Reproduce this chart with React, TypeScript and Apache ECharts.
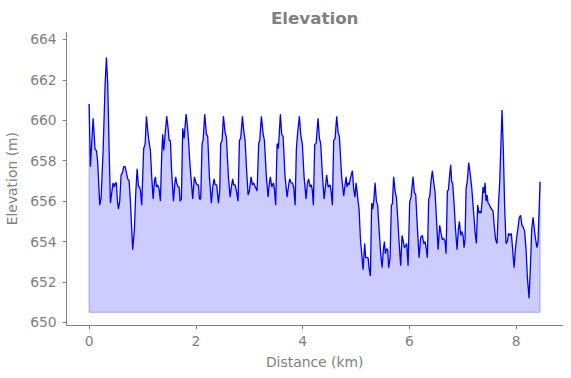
import React, { useEffect, useRef } from "react";
import * as echarts from "echarts";

// Distance along the route (km)
const distanceKm: number[] = [
  0, 0.024, 0.075, 0.112, 0.137, 0.161, 0.199, 0.225, 0.262, 0.3, 0.324, 0.348, 0.375, 0.399, 0.423, 0.449, 0.474, 0.493, 0.511, 0.53,
  0.549, 0.573, 0.599, 0.624, 0.648, 0.674, 0.699, 0.723, 0.749, 0.773, 0.816, 0.848, 0.873, 0.899, 0.925, 0.945, 0.961, 0.985,
  1.022, 1.049, 1.073, 1.097, 1.124, 1.148, 1.172, 1.199, 1.223, 1.242, 1.26, 1.285, 1.311, 1.335, 1.36, 1.378, 1.397, 1.423, 1.453,
  1.479, 1.498, 1.522, 1.547, 1.579, 1.603, 1.622, 1.64, 1.667, 1.685, 1.704, 1.728, 1.753, 1.779, 1.816, 1.841, 1.862, 1.884, 1.91,
  1.94, 1.972, 1.996, 2.022, 2.047, 2.066, 2.09, 2.116, 2.135, 2.165, 2.197, 2.221, 2.253, 2.29, 2.315, 2.341, 2.36, 2.39, 2.421,
  2.446, 2.464, 2.491, 2.515, 2.547, 2.571, 2.609, 2.64, 2.665, 2.689, 2.708, 2.734, 2.758, 2.79, 2.815, 2.839, 2.871, 2.895, 2.921,
  2.946, 2.978, 3.002, 3.034, 3.058, 3.082, 3.114, 3.146, 3.176, 3.195, 3.227, 3.258, 3.283, 3.32, 3.352, 3.376, 3.395, 3.419, 3.451,
  3.47, 3.494, 3.521, 3.545, 3.582, 3.607, 3.633, 3.67, 3.708, 3.732, 3.757, 3.783, 3.807, 3.831, 3.858, 3.882, 3.906, 3.938, 3.963,
  3.994, 4.026, 4.064, 4.088, 4.112, 4.139, 4.163, 4.182, 4.2, 4.225, 4.251, 4.288, 4.313, 4.337, 4.369, 4.401, 4.425, 4.449, 4.476,
  4.513, 4.532, 4.556, 4.581, 4.607, 4.637, 4.663, 4.687, 4.73, 4.768, 4.794, 4.813, 4.831, 4.85, 4.869, 4.899, 4.931, 4.955, 4.981,
  5.0, 5.019, 5.037, 5.056, 5.08, 5.112, 5.131, 5.161, 5.18, 5.206, 5.225, 5.243, 5.268, 5.292, 5.311, 5.33, 5.356, 5.38, 5.404,
  5.431, 5.461, 5.487, 5.511, 5.53, 5.549, 5.573, 5.592, 5.61, 5.637, 5.661, 5.68, 5.704, 5.73, 5.755, 5.779, 5.805, 5.835, 5.861,
  5.886, 5.904, 5.929, 5.948, 5.974, 6.004, 6.03, 6.067, 6.092, 6.116, 6.148, 6.18, 6.21, 6.242, 6.266, 6.292, 6.311, 6.335, 6.36,
  6.378, 6.404, 6.429, 6.453, 6.479, 6.504, 6.536, 6.566, 6.592, 6.616, 6.64, 6.667, 6.685, 6.71, 6.729, 6.753, 6.772, 6.79, 6.809,
  6.835, 6.86, 6.891, 6.916, 6.935, 6.959, 6.978, 7.004, 7.022, 7.041, 7.06, 7.084, 7.109, 7.135, 7.165, 7.197, 7.228, 7.253, 7.277,
  7.303, 7.322, 7.341, 7.36, 7.378, 7.397, 7.416, 7.434, 7.453, 7.472, 7.491, 7.515, 7.539, 7.566, 7.59, 7.614, 7.64, 7.665, 7.689,
  7.715, 7.734, 7.758, 7.783, 7.809, 7.833, 7.858, 7.884, 7.908, 7.933, 7.959, 7.983, 8.007, 8.034, 8.058, 8.082, 8.107, 8.133,
  8.157, 8.184, 8.208, 8.24, 8.264, 8.29, 8.315, 8.339, 8.363, 8.388, 8.408, 8.446,
];

// Elevation (m)
const elevationM: number[] = [
  660.8, 657.7, 660.1, 658.55, 658.5, 657.9, 655.8, 656.2, 658.5, 661.8, 663.1, 661.8, 658.5, 655.9, 656.4, 656.9, 656.7, 656.9, 656.9, 656.0,
  655.6, 656.0, 657.3, 657.4, 657.7, 657.7, 657.4, 657.1, 657.0, 656.0, 653.6, 654.6, 656.4, 657.6, 656.7, 656.7, 656.5, 655.8,
  658.6, 658.8, 660.2, 659.5, 658.9, 658.5, 657.2, 656.1, 657.0, 657.2, 656.7, 656.8, 656.6, 656.0, 658.3, 659.3, 658.5, 659.3, 660.2,
  659.6, 659.0, 659.0, 657.4, 656.0, 656.8, 657.2, 656.9, 656.7, 656.7, 656.0, 656.1, 659.6, 659.1, 660.3, 659.7, 659.0, 658.0, 657.1,
  656.1, 657.2, 656.95, 656.8, 656.8, 656.1, 656.1, 658.85, 659.0, 660.3, 659.3, 659.2, 657.2, 655.9, 656.7, 657.1, 656.8, 656.8, 655.9,
  656.5, 658.85, 659.0, 660.2, 659.4, 659.15, 657.2, 656.2, 656.7, 657.1, 656.8, 656.8, 656.5, 656.0, 659.0, 659.1, 660.2, 659.5, 659.0,
  657.7, 656.3, 656.5, 657.2, 656.8, 656.9, 656.7, 656.5, 658.85, 659.0, 660.2, 659.35, 659.0, 657.2, 656.2, 656.9, 657.2, 656.7, 656.9,
  656.6, 655.8, 658.85, 658.6, 660.3, 659.3, 659.2, 657.2, 656.2, 656.7, 657.1, 656.9, 656.9, 656.7, 655.8, 658.6, 659.4, 660.2, 659.3,
  658.8, 657.2, 656.1, 656.9, 657.1, 656.7, 656.8, 656.5, 655.8, 658.8, 658.85, 660.1, 659.1, 658.85, 657.3, 656.1, 656.7, 657.3, 656.7,
  656.8, 656.5, 655.8, 659.0, 659.1, 660.2, 659.4, 659.2, 657.2, 656.25, 656.8, 657.2, 656.7, 656.9, 656.8, 657.2, 657.5, 656.6, 656.2,
  656.9, 656.5, 656.0, 655.6, 654.2, 653.2, 652.6, 653.9, 653.2, 653.2, 653.2, 652.7, 652.3, 655.9, 655.6, 655.96, 656.9, 656.0, 655.8,
  654.6, 653.4, 652.7, 653.6, 654.0, 653.4, 653.65, 653.6, 652.7, 653.2, 655.8, 655.85, 657.2, 656.5, 656.2, 655.2, 654.0, 652.8, 654.3,
  654.0, 653.7, 653.8, 653.9, 652.8, 655.96, 656.2, 657.2, 656.4, 656.35, 654.7, 653.2, 654.2, 654.3, 653.9, 654.0, 653.7, 653.2, 656.1,
  656.2, 657.0, 657.5, 656.95, 656.45, 655.2, 653.6, 654.8, 654.4, 654.1, 654.15, 654.0, 653.4, 656.5, 656.55, 657.3, 657.8, 656.95, 656.9,
  655.9, 654.7, 653.6, 654.6, 655.0, 654.3, 654.5, 654.3, 653.7, 654.1, 656.6, 657.0, 657.9, 657.4, 656.7, 655.6, 654.5, 653.9, 655.8,
  655.4, 655.5, 655.4, 656.0, 656.7, 656.4, 656.9, 656.0, 656.3, 655.9, 655.85, 655.7, 655.6, 655.5, 654.7, 654.1, 653.9, 655.7, 656.9,
  659.0, 660.5, 658.5, 655.7, 653.9, 654.0, 654.4, 654.3, 654.4, 653.6, 652.7, 653.6, 654.2, 654.7, 655.2, 655.3, 654.8, 654.7,
  654.5, 653.6, 652.25, 651.2, 652.7, 654.6, 655.2, 654.6, 654.1, 653.7, 654.0, 656.95,
];

// Baseline of the shaded area (m)
const fillBase = 650.5;

// Tick labels
const xTicks: number[] = [0, 2, 4, 6, 8];
const yTicks: number[] = [650, 652, 654, 656, 658, 660, 662, 664];

const GRAY = "#808080";
const FONT = "DejaVu Sans";

export default function App() {
  const ref = useRef<HTMLDivElement>(null);

  useEffect(() => {
    if (!ref.current) return;
    const chart = echarts.init(ref.current, null, { renderer: "svg" });
    const profile = distanceKm.map((d, i) => [d, elevationM[i]]);
    const last = distanceKm.length - 1;
    const fillEdge = [
      [distanceKm[0], elevationM[0]],
      [distanceKm[0], fillBase],
      [distanceKm[last], fillBase],
      [distanceKm[last], elevationM[last]],
    ];

    chart.setOption({
      animation: false,
      backgroundColor: "#ffffff",
      title: {
        text: "Elevation",
        left: 314.7,
        top: 9.5,
        textAlign: "center",
        padding: 0,
        textStyle: { color: GRAY, fontFamily: FONT, fontWeight: "bold", fontSize: 16.7 },
      },
      grid: { left: 66.7, right: 8.3, top: 32.3, bottom: 53, containLabel: false, outerBoundsMode: "none" },
      xAxis: {
        type: "value",
        min: -0.42,
        max: 8.87,
        name: "Distance (km)",
        nameLocation: "middle",
        nameGap: 29.5,
        nameTextStyle: { color: GRAY, fontFamily: FONT, fontSize: 13.9 },
        axisLine: { show: true, onZero: false, lineStyle: { color: GRAY, width: 1 } },
        axisTick: { show: true, length: 4, customValues: xTicks, lineStyle: { color: GRAY } },
        axisLabel: { customValues: xTicks, color: GRAY, fontFamily: FONT, fontSize: 13.9, margin: 8.5 },
        splitLine: { show: false },
      },
      yAxis: {
        type: "value",
        min: 649.87,
        max: 664.35,
        name: "Elevation (m)",
        nameLocation: "middle",
        nameRotate: 90,
        nameGap: 40.5,
        nameTextStyle: { color: GRAY, fontFamily: FONT, fontSize: 13.9 },
        axisLine: { show: true, onZero: false, lineStyle: { color: GRAY, width: 1 } },
        axisTick: { show: true, length: 4, customValues: yTicks, lineStyle: { color: GRAY } },
        axisLabel: { customValues: yTicks, color: GRAY, fontFamily: FONT, fontSize: 13.9, margin: 10 },
        splitLine: { show: false },
      },
      series: [
        {
          type: "line",
          data: fillEdge,
          symbol: "none",
          silent: true,
          lineStyle: { color: "rgba(0,0,255,0.3)", width: 1 },
          z: 1,
        },
        {
          type: "line",
          data: profile,
          symbol: "none",
          silent: true,
          lineStyle: { color: "#0000ff", width: 1.3 },
          areaStyle: { color: "#0000ff", opacity: 0.2, origin: fillBase },
          z: 2,
        },
      ],
    });
    return () => chart.dispose();
  }, []);

  return <div ref={ref} style={{ position: "fixed", left: 0, top: 0, width: 571, height: 378 }} />;
}
